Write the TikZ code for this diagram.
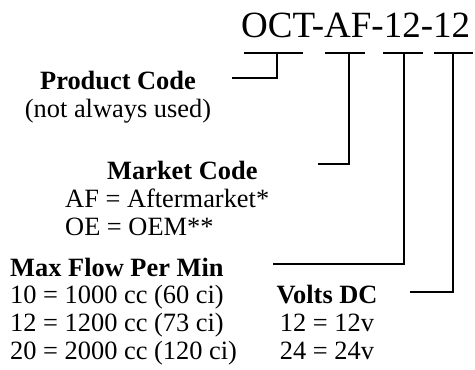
\documentclass[tikz,border=0pt]{standalone}
\usepackage{fontspec}
\setmainfont{Liberation Serif}
\usetikzlibrary{positioning, calc}

\begin{document}
\begin{tikzpicture}[x=1pt,y=-1pt,
  lead/.style={line width=1.5pt},
  partno/.style={inner sep=0pt, font=\fontsize{37}{40}\selectfont},
  head/.style={inner sep=0pt, font=\fontsize{26.4}{28}\selectfont\bfseries},
  body/.style={inner sep=0pt, align=left, font=\fontsize{26.4}{28}\selectfont}]
  \useasboundingbox (0,0) rectangle (475,370);
  \node[partno, anchor=base west] (pn) at (241,37) {OCT-AF-12-12};
  % one bar under each field of the part number
  \coordinate (oct) at (277,53);
  \coordinate (af) at (349,53);
  \coordinate (fl) at (404,53);
  \coordinate (vd) at (453,53);
  \draw[lead] ([xshift=-33pt]oct) -- ([xshift=26pt]oct);
  \draw[lead] ([xshift=-24pt]af) -- ([xshift=16pt]af);
  \draw[lead] ([xshift=-21pt]fl) -- ([xshift=19pt]fl);
  \draw[lead] ([xshift=-19pt]vd) -- ([xshift=20pt]vd);
  % labels (a multi-line node sits on the baseline of its last line)
  \node[head, anchor=base] (prod) at (118,89) {Product Code};
  \node[body, anchor=base] (prodnote) at ([yshift=-28pt]prod.base) {(not always used)};
  \node[head, anchor=base west] (mkt) at (107,179) {Market Code};
  \node[body, anchor=base west] (mktlist) at (65,235) {AF = Aftermarket*\\OE = OEM**};
  \node[head, anchor=base west] (flow) at (10,276) {Max Flow Per Min};
  \node[body, anchor=base west] (flowlist) at (10,359)
    {10 = 1000 cc (60 ci)\\12 = 1200 cc (73 ci)\\20 = 2000 cc (120 ci)};
  \node[head, anchor=base] (volt) at (327,303) {Volts DC};
  \node[body, align=center, anchor=base] (voltlist) at ([yshift=-56pt]volt.base) {12 = 12v\\24 = 24v};
  % leaders
  \coordinate (prodend) at (232,78);
  \coordinate (mktend) at (318,164);
  \coordinate (flowend) at (273,264);
  \coordinate (voltend) at (410,292);
  \draw[lead] (oct) |- (prodend);
  \draw[lead] (af) |- (mktend);
  \draw[lead] (fl) |- (flowend);
  \draw[lead] (vd) |- (voltend);
\end{tikzpicture}
\end{document}
